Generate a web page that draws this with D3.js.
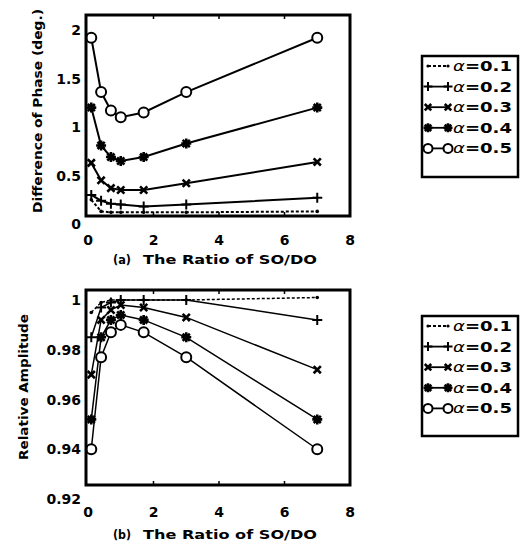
<!DOCTYPE html>
<html>
<head>
<meta charset="utf-8">
<script src="https://cdn.jsdelivr.net/npm/d3@7"></script>
<style>
  body { margin: 0; background: #fff; }
  svg text { font-family: "DejaVu Sans", "Liberation Sans", Arial, sans-serif; font-weight: bold; fill: #000; }
</style>
</head>
<body>
<svg id="chart" width="528" height="544"></svg>
<script>
// ratio SO/DO (x for every series)
const ratio = [0.1, 0.4, 0.7, 1.0, 1.7, 3.0, 7.0];
const alphaLabels = ["0.1", "0.2", "0.3", "0.4", "0.5"];

// (a) difference of phase, deg.
const phaseA1 = [0.25, 0.13, 0.12, 0.12, 0.12, 0.12, 0.13];
const phaseA2 = [0.30, 0.24, 0.21, 0.20, 0.18, 0.20, 0.27];
const phaseA3 = [0.63, 0.45, 0.37, 0.35, 0.35, 0.42, 0.64];
const phaseA4 = [1.20, 0.81, 0.69, 0.65, 0.69, 0.83, 1.20];
const phaseA5 = [1.92, 1.36, 1.17, 1.10, 1.15, 1.36, 1.92];

// (b) relative amplitude
const ampA1 = [0.995, 0.999, 1.000, 1.000, 1.000, 1.000, 1.001];
const ampA2 = [0.985, 0.997, 0.999, 1.000, 1.000, 1.000, 0.992];
const ampA3 = [0.970, 0.992, 0.996, 0.998, 0.997, 0.993, 0.972];
const ampA4 = [0.952, 0.985, 0.992, 0.994, 0.992, 0.985, 0.952];
const ampA5 = [0.940, 0.977, 0.987, 0.990, 0.987, 0.977, 0.940];

const xTicks = [0, 2, 4, 6, 8];
const phaseTicks = [0, 0.5, 1, 1.5, 2];
const phaseTickLabels = ["0", "0.5", "1", "1.5", "2"];
const ampTicks = [0.92, 0.94, 0.96, 0.98, 1];
const ampTickLabels = ["0.92", "0.94", "0.96", "0.98", "1"];

const markerKinds = ["dot", "plus", "cross", "star", "circle"];

const svg = d3.select("#chart");

function drawMarker(g, kind, px, py, sc) {
    const s = sc || 1;
    if (kind === "dot") {
        g.append("circle").attr("cx", px).attr("cy", py).attr("r", 1.8 * s).attr("fill", "#000");
    } else if (kind === "circle") {
        g.append("circle").attr("cx", px).attr("cy", py).attr("r", 5 * s)
            .attr("fill", "#fff").attr("stroke", "#000").attr("stroke-width", 2);
    } else {
        let p = d3.path();
        const a = 5 * s, b = 3.6 * s;
        if (kind === "plus" || kind === "star") {
            p.moveTo(px - a, py); p.lineTo(px + a, py);
            p.moveTo(px, py - a); p.lineTo(px, py + a);
        }
        if (kind === "cross" || kind === "star") {
            p.moveTo(px - b, py - b); p.lineTo(px + b, py + b);
            p.moveTo(px - b, py + b); p.lineTo(px + b, py - b);
        }
        g.append("path").attr("d", p.toString()).attr("fill", "none")
            .attr("stroke", "#000").attr("stroke-width", kind === "plus" ? 2 : 2.6);
    }
}

function drawPanel(cfg) {
    const x = d3.scaleLinear().domain([0, 8]).range([88, 350]);
    const y = d3.scaleLinear().domain(cfg.yDomain).range(cfg.yRange);
    const g = svg.append("g");

    // series lines + markers
    const line = d3.line().x(d => x(d[0])).y(d => y(d[1]));
    cfg.series.forEach((vals, i) => {
        const pts = ratio.map((r, j) => [r, vals[j]]);
        g.append("path").datum(pts).attr("d", line).attr("fill", "none")
            .attr("stroke", "#000").attr("stroke-width", cfg.lineWidth)
            .attr("stroke-dasharray", i === 0 ? "3,2" : null);
        pts.forEach(p => drawMarker(g, markerKinds[i], x(p[0]), y(p[1])));
    });

    // frame
    g.append("rect").attr("x", 86).attr("y", cfg.boxTop)
        .attr("width", 264).attr("height", cfg.boxBottom - cfg.boxTop)
        .attr("fill", "none").attr("stroke", "#000").attr("stroke-width", 3);

    // inward ticks
    xTicks.slice(1, 4).forEach(t => {
        g.append("line").attr("x1", x(t)).attr("x2", x(t)).attr("y1", cfg.boxTop).attr("y2", cfg.boxTop + 4)
            .attr("stroke", "#000").attr("stroke-width", 1.5);
        g.append("line").attr("x1", x(t)).attr("x2", x(t)).attr("y1", cfg.boxBottom).attr("y2", cfg.boxBottom - 4)
            .attr("stroke", "#000").attr("stroke-width", 1.5);
    });

    // tick labels
    xTicks.forEach(t => {
        g.append("text").attr("x", x(t)).attr("y", cfg.xLabelY)
            .attr("text-anchor", "middle").attr("font-size", 14).text(t);
    });
    cfg.yTicks.forEach((t, i) => {
        g.append("text").attr("x", 81).attr("y", y(t) + 5)
            .attr("text-anchor", "end").attr("font-size", 14).text(cfg.yTickLabels[i]);
    });

    // axis titles
    g.append("text").attr("x", 113).attr("y", cfg.xTitleY).attr("font-size", 12.5)
        .attr("textLength", 18).attr("lengthAdjust", "spacingAndGlyphs").text(cfg.tag);
    g.append("text").attr("x", 143).attr("y", cfg.xTitleY).attr("font-size", 12.5)
        .attr("textLength", 174).attr("lengthAdjust", "spacingAndGlyphs").text("The Ratio of SO/DO");
    g.append("text").attr("transform", `translate(${cfg.yTitleX},${cfg.yTitleY}) rotate(-90)`)
        .attr("text-anchor", "middle").attr("font-size", 12.5)
        .attr("textLength", cfg.yTitleLen).attr("lengthAdjust", "spacingAndGlyphs").text(cfg.yTitle);

    // legend
    const lg = svg.append("g");
    lg.append("rect").attr("x", 422).attr("y", cfg.legTop).attr("width", 96).attr("height", cfg.legBottom - cfg.legTop)
        .attr("fill", "#fff").attr("stroke", "#000").attr("stroke-width", 2.5);
    alphaLabels.forEach((a, i) => {
        const ly = cfg.legRow0 + i * 20.6;
        lg.append("line").attr("x1", 428).attr("x2", 448).attr("y1", ly).attr("y2", ly)
            .attr("stroke", "#000").attr("stroke-width", 1.8)
            .attr("stroke-dasharray", i === 0 ? "3,2" : null);
        drawMarker(lg, markerKinds[i], 428, ly, 0.9);
        drawMarker(lg, markerKinds[i], 448, ly, 0.9);
        const t = lg.append("text").attr("x", 453).attr("y", ly + 5).attr("font-size", 14)
            .attr("textLength", 59).attr("lengthAdjust", "spacingAndGlyphs");
        t.append("tspan").attr("font-style", "italic").attr("font-weight", "normal").text("α");
        t.append("tspan").text("=" + a);
    });
}

drawPanel({
    series: [phaseA1, phaseA2, phaseA3, phaseA4, phaseA5],
    yDomain: [0, 2], yRange: [224, 30],
    yTicks: phaseTicks, yTickLabels: phaseTickLabels,
    boxTop: 15, boxBottom: 216,
    xLabelY: 245, xTitleY: 264, tag: "(a)",
    yTitle: "Difference of Phase (deg.)", yTitleX: 42, yTitleY: 111, yTitleLen: 204,
    lineWidth: 2,
    legTop: 56, legBottom: 177, legRow0: 66
});

drawPanel({
    series: [ampA1, ampA2, ampA3, ampA4, ampA5],
    yDomain: [0.92, 1], yRange: [499, 300],
    yTicks: ampTicks, yTickLabels: ampTickLabels,
    boxTop: 290, boxBottom: 485,
    xLabelY: 517, xTitleY: 539, tag: "(b)",
    yTitle: "Relative Amplitude", yTitleX: 28, yTitleY: 387, yTitleLen: 146,
    lineWidth: 1.5,
    legTop: 316, legBottom: 436, legRow0: 326
});
</script>
</body>
</html>
